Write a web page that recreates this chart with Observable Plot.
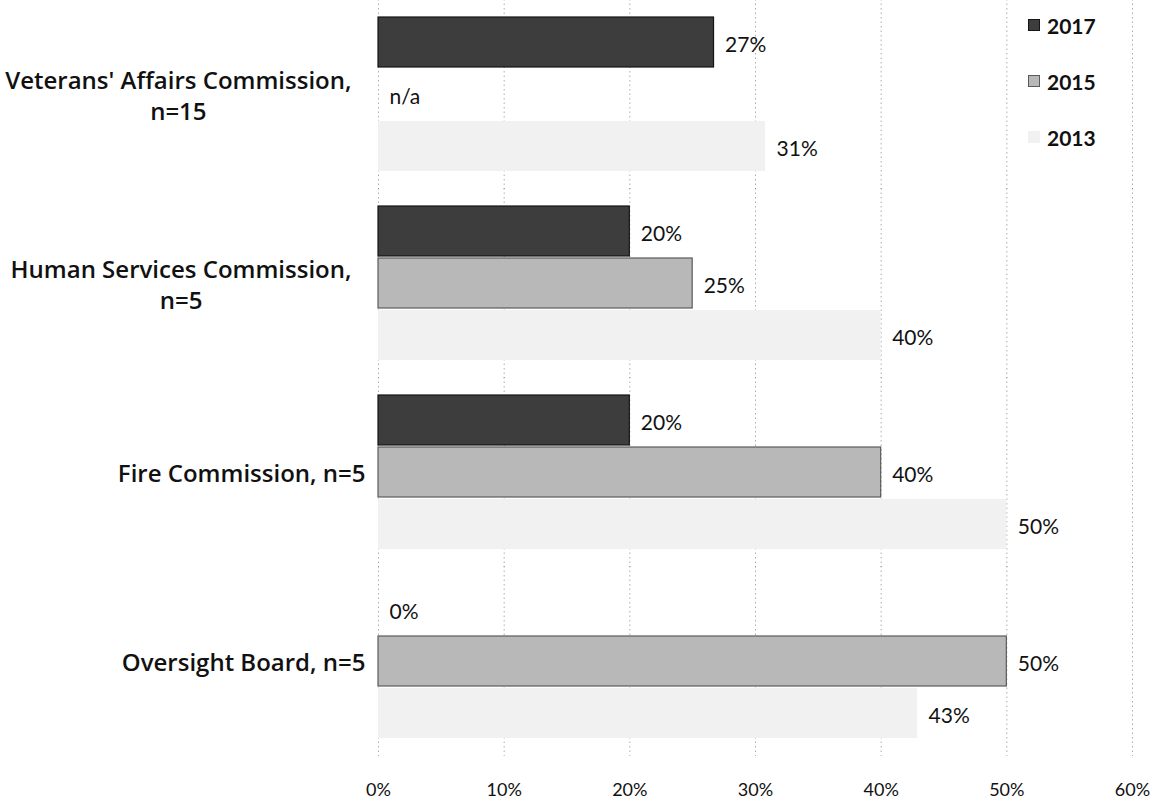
<!DOCTYPE html>
<html>
<head>
<meta charset="utf-8">
<script src="https://cdn.jsdelivr.net/npm/d3@7"></script>
<script src="https://cdn.jsdelivr.net/npm/@observablehq/plot@0.6"></script>
<style>
  html, body { margin: 0; padding: 0; background: #fff; }
  #wrap { position: relative; width: 1162px; height: 802px; font-family: Lato, "Open Sans", sans-serif; }
  #legend { position: absolute; left: 1028px; top: 12px; }
  .item { display: flex; align-items: center; height: 26px; margin-bottom: 30px; font-weight: 700; font-size: 21px; color: #111; }
  .sw { width: 12px; height: 12px; margin-right: 7px; box-sizing: border-box; }
</style>
</head>
<body>
<div id="wrap"><div id="chart"></div><div id="legend"></div></div>
<script>
// ---- data ----
const categories = ["Veterans' Affairs Commission, n=15", "Human Services Commission, n=5", "Fire Commission, n=5", "Oversight Board, n=5"];
const categoryLines = [["Veterans' Affairs Commission,", "n=15"], ["Human Services Commission,", "n=5"], ["Fire Commission, n=5"], ["Oversight Board, n=5"]];
const years = ["2017", "2015", "2013"];
const values2017 = [0.267, 0.20, 0.20, 0.0];
const values2015 = [null, 0.25, 0.40, 0.50];
const values2013 = [0.308, 0.40, 0.50, 0.429];
const xTicks = [0, 0.1, 0.2, 0.3, 0.4, 0.5, 0.6];

const seriesValues = {"2017": values2017, "2015": values2015, "2013": values2013};
const fills = {"2017": "#3d3d3d", "2015": "#b8b8b8", "2013": "#f1f1f1"};
const strokes = {"2017": "#151515", "2015": "#5a5a5a", "2013": "none"};

const rows = [];
years.forEach(y => categories.forEach((c, i) => rows.push({category: c, year: y, value: seriesValues[y][i]})));

const pct = d3.format(".0%");
const ctx = document.createElement("canvas").getContext("2d");
const labelFamily = "'Open Sans'";
const labelSize = 24;
ctx.font = `600 ${labelSize}px ${labelFamily}`;

const labelMarks = categories.map((c, i) => {
  const lines = categoryLines[i];
  const w = d3.max(lines, l => ctx.measureText(l).width);
  const gap = lines.length > 1 ? 27 : 13;
  return Plot.text([c], {
    fy: d => d, frameAnchor: "left", text: () => lines.join("\n"),
    textAnchor: "middle", dx: -gap - w / 2, lineHeight: 1.3,
    fontSize: labelSize, fontWeight: 600, fontFamily: labelFamily, fill: "#111"
  });
});

const chart = Plot.plot({
  width: 1162, height: 802,
  marginLeft: 378, marginRight: 30, marginTop: 15, marginBottom: 62,
  style: {fontFamily: "Lato, 'Open Sans', sans-serif", fontSize: "18px", color: "#111", background: "#fff"},
  x: {domain: [0, 0.6], axis: null, label: null},
  y: {domain: years, axis: null, paddingInner: 0.04, paddingOuter: 0},
  fy: {domain: categories, axis: null, paddingInner: 0.184, paddingOuter: 0},
  marks: [
    Plot.ruleX(xTicks, {stroke: "#777", strokeOpacity: 0.6, strokeDasharray: "1.5,3", insetTop: -18, insetBottom: -18}),
    ...years.map(yr => Plot.barX(rows.filter(d => d.year === yr && d.value != null), {
      fy: "category", y: "year", x: "value", fill: fills[yr], stroke: strokes[yr], strokeWidth: 1.2
    })),
    Plot.text(rows, {
      fy: "category", y: "year", x: d => d.value == null ? 0 : d.value,
      text: d => d.value == null ? "n/a" : pct(d.value),
      textAnchor: "start", dx: 11, dy: 3, fontSize: 21, fill: "#111"
    }),
    ...labelMarks,
    Plot.axisX({ticks: xTicks, tickFormat: pct, tickSize: 0, tickPadding: 45, fontSize: 18, anchor: "bottom", label: null})
  ]
});
document.getElementById("chart").appendChild(chart);

const legend = document.getElementById("legend");
years.forEach(yr => {
  const it = document.createElement("div");
  it.className = "item";
  const sw = document.createElement("div");
  sw.className = "sw";
  sw.style.background = fills[yr];
  if (strokes[yr] !== "none") sw.style.border = "1px solid " + strokes[yr];
  it.appendChild(sw);
  it.appendChild(document.createTextNode(yr));
  legend.appendChild(it);
});
</script>
</body>
</html>
